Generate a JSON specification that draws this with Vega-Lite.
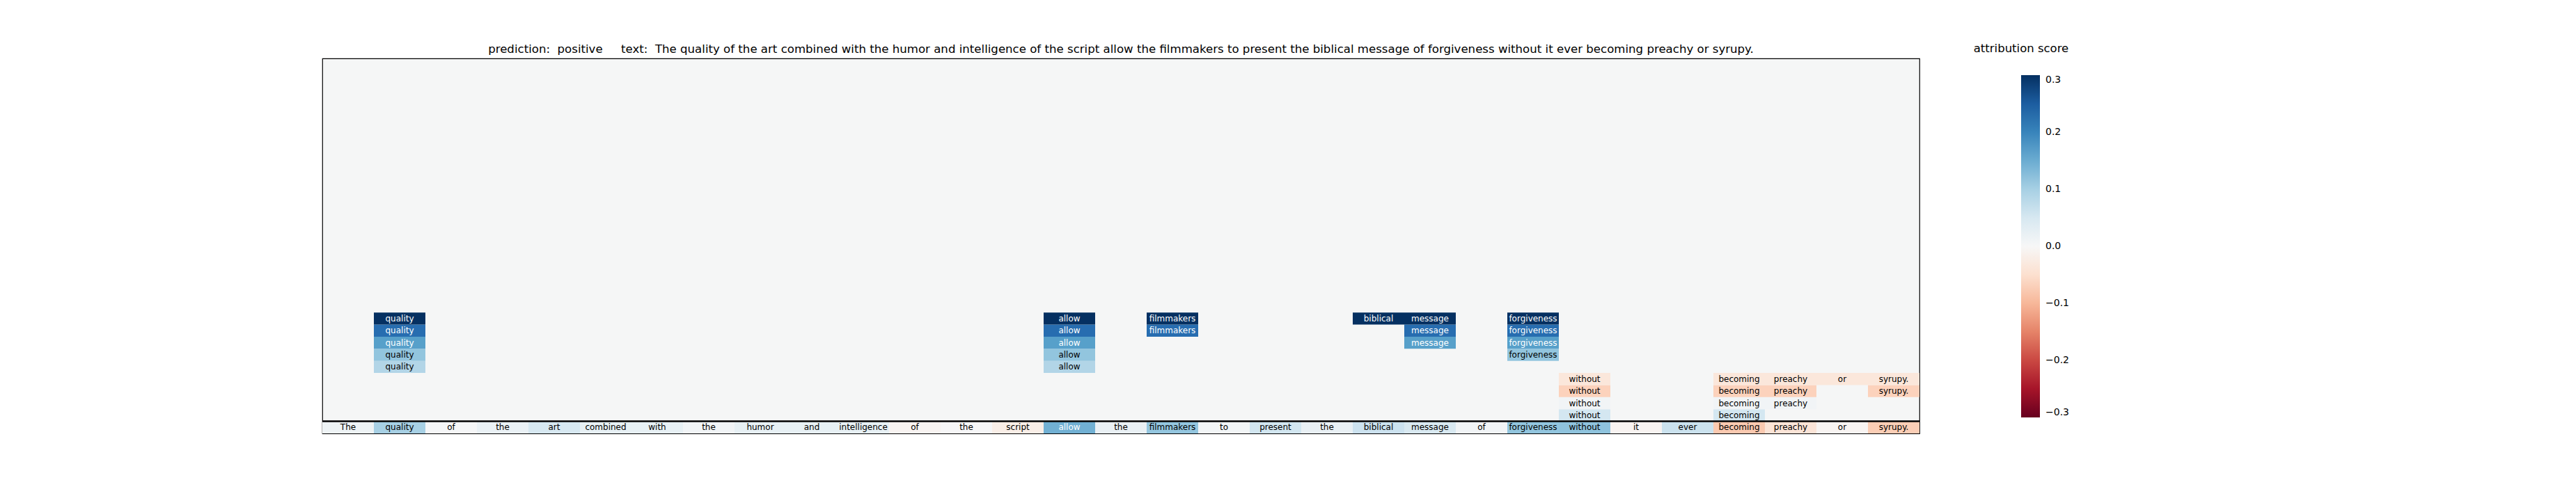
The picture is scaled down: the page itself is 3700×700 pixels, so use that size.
{
  "$schema": "https://vega.github.io/schema/vega-lite/v6.json",
  "autosize": {"type": "none"},
  "padding": {"left": 463, "top": 84, "right": 943, "bottom": 77},
  "width": 2294,
  "height": 539,
  "background": "white",
  "title": {
    "text": "prediction:\u00a0\u00a0positive\u00a0\u00a0\u00a0\u00a0\u00a0text:\u00a0\u00a0The quality of the art combined with the humor and intelligence of the script allow the filmmakers to present the biblical message of forgiveness without it ever becoming preachy or syrupy.",
    "font": "DejaVu Sans",
    "fontSize": 16.6,
    "fontWeight": "normal",
    "color": "black",
    "anchor": "middle",
    "offset": -18
  },
  "config": {
    "view": {"stroke": "black", "strokeWidth": 1.2, "fill": "#f5f6f6"},
    "font": "DejaVu Sans"
  },
  "data": {
    "values": [
      {"i": 0, "row": 0, "tok": "The", "v": 0.015},
      {"i": 1, "row": 0, "tok": "quality", "v": 0.1},
      {"i": 2, "row": 0, "tok": "of", "v": 0.003},
      {"i": 3, "row": 0, "tok": "the", "v": 0.02},
      {"i": 4, "row": 0, "tok": "art", "v": 0.05},
      {"i": 5, "row": 0, "tok": "combined", "v": 0.025},
      {"i": 6, "row": 0, "tok": "with", "v": 0.025},
      {"i": 7, "row": 0, "tok": "the", "v": 0.01},
      {"i": 8, "row": 0, "tok": "humor", "v": 0.025},
      {"i": 9, "row": 0, "tok": "and", "v": 0.025},
      {"i": 10, "row": 0, "tok": "intelligence", "v": 0.025},
      {"i": 11, "row": 0, "tok": "of", "v": -0.008},
      {"i": 12, "row": 0, "tok": "the", "v": 0.002},
      {"i": 13, "row": 0, "tok": "script", "v": -0.02},
      {"i": 14, "row": 0, "tok": "allow", "v": 0.145},
      {"i": 15, "row": 0, "tok": "the", "v": 0.022},
      {"i": 16, "row": 0, "tok": "filmmakers", "v": 0.118},
      {"i": 17, "row": 0, "tok": "to", "v": 0.008},
      {"i": 18, "row": 0, "tok": "present", "v": 0.058},
      {"i": 19, "row": 0, "tok": "the", "v": 0.022},
      {"i": 20, "row": 0, "tok": "biblical", "v": 0.065},
      {"i": 21, "row": 0, "tok": "message", "v": 0.048},
      {"i": 22, "row": 0, "tok": "of", "v": 0.01},
      {"i": 23, "row": 0, "tok": "forgiveness", "v": 0.12},
      {"i": 24, "row": 0, "tok": "without", "v": 0.122},
      {"i": 25, "row": 0, "tok": "it", "v": -0.008},
      {"i": 26, "row": 0, "tok": "ever", "v": 0.066},
      {"i": 27, "row": 0, "tok": "becoming", "v": -0.08},
      {"i": 28, "row": 0, "tok": "preachy", "v": -0.04},
      {"i": 29, "row": 0, "tok": "or", "v": -0.006},
      {"i": 30, "row": 0, "tok": "syrupy.", "v": -0.075},
      {"i": 1, "row": 5, "tok": "quality", "v": 0.09},
      {"i": 1, "row": 6, "tok": "quality", "v": 0.12},
      {"i": 1, "row": 7, "tok": "quality", "v": 0.165},
      {"i": 1, "row": 8, "tok": "quality", "v": 0.23},
      {"i": 1, "row": 9, "tok": "quality", "v": 0.32},
      {"i": 14, "row": 5, "tok": "allow", "v": 0.09},
      {"i": 14, "row": 6, "tok": "allow", "v": 0.12},
      {"i": 14, "row": 7, "tok": "allow", "v": 0.165},
      {"i": 14, "row": 8, "tok": "allow", "v": 0.23},
      {"i": 14, "row": 9, "tok": "allow", "v": 0.32},
      {"i": 16, "row": 8, "tok": "filmmakers", "v": 0.23},
      {"i": 16, "row": 9, "tok": "filmmakers", "v": 0.32},
      {"i": 20, "row": 9, "tok": "biblical", "v": 0.32},
      {"i": 21, "row": 7, "tok": "message", "v": 0.165},
      {"i": 21, "row": 8, "tok": "message", "v": 0.23},
      {"i": 21, "row": 9, "tok": "message", "v": 0.32},
      {"i": 23, "row": 6, "tok": "forgiveness", "v": 0.12},
      {"i": 23, "row": 7, "tok": "forgiveness", "v": 0.165},
      {"i": 23, "row": 8, "tok": "forgiveness", "v": 0.23},
      {"i": 23, "row": 9, "tok": "forgiveness", "v": 0.32},
      {"i": 24, "row": 1, "tok": "without", "v": 0.055},
      {"i": 24, "row": 2, "tok": "without", "v": 0.01},
      {"i": 24, "row": 3, "tok": "without", "v": -0.07},
      {"i": 24, "row": 4, "tok": "without", "v": -0.035},
      {"i": 27, "row": 1, "tok": "becoming", "v": 0.055},
      {"i": 27, "row": 2, "tok": "becoming", "v": 0.01},
      {"i": 27, "row": 3, "tok": "becoming", "v": -0.07},
      {"i": 27, "row": 4, "tok": "becoming", "v": -0.035},
      {"i": 28, "row": 2, "tok": "preachy", "v": 0.01},
      {"i": 28, "row": 3, "tok": "preachy", "v": -0.07},
      {"i": 28, "row": 4, "tok": "preachy", "v": -0.035},
      {"i": 29, "row": 4, "tok": "or", "v": -0.035},
      {"i": 30, "row": 3, "tok": "syrupy.", "v": -0.07},
      {"i": 30, "row": 4, "tok": "syrupy.", "v": -0.035}
    ]
  },
  "layer": [
    {
      "mark": {"type": "rect"},
      "encoding": {
        "x": {"field": "i", "type": "ordinal", "axis": null, "scale": {"paddingInner": 0, "paddingOuter": 0}},
        "y": {"field": "row", "type": "ordinal", "axis": null,
          "scale": {"domain": [30,29,28,27,26,25,24,23,22,21,20,19,18,17,16,15,14,13,12,11,10,9,8,7,6,5,4,3,2,1,0], "paddingInner": 0, "paddingOuter": 0}},
        "color": {
          "field": "v", "type": "quantitative",
          "scale": {
            "type": "linear",
            "domain": [-0.3, -0.24, -0.18, -0.12, -0.06, 0, 0.06, 0.12, 0.18, 0.24, 0.3],
            "range": ["#67001f", "#b2182b", "#d6604d", "#f4a582", "#fddbc7", "#f7f7f7", "#d1e5f0", "#92c5de", "#4393c3", "#2166ac", "#053061"],
            "interpolate": "rgb",
            "clamp": true
          },
          "legend": {
            "title": "attribution score",
            "orient": "none",
            "legendX": 2372,
            "legendY": -22,
            "direction": "vertical",
            "gradientLength": 492,
            "gradientThickness": 27,
            "gradientStrokeWidth": 0,
            "values": [-0.3, -0.2, -0.1, 0, 0.1, 0.2, 0.3],
            "format": ".1f",
            "labelFontSize": 14,
            "labelColor": "black",
            "labelOffset": 8,
            "labelFont": "DejaVu Sans",
            "titleFont": "DejaVu Sans",
            "titleFontSize": 16.5,
            "titleFontWeight": "normal",
            "titleColor": "black",
            "titleAnchor": "start",
            "titleAlign": "center",
            "titlePadding": 29.5
          }
        }
      }
    },
    {
      "mark": {"type": "text", "font": "DejaVu Sans", "fontSize": 12, "align": "center", "baseline": "middle"},
      "encoding": {
        "x": {"field": "i", "type": "ordinal"},
        "y": {"field": "row", "type": "ordinal"},
        "text": {"field": "tok"},
        "color": {"condition": {"test": "datum.v > 0.13", "value": "white"}, "value": "black"}
      }
    },
    {
      "data": {"values": [{"sep": 0}]},
      "mark": {"type": "rule", "color": "black", "strokeWidth": 2.5},
      "encoding": {
        "y": {"field": "sep", "type": "ordinal", "bandPosition": 0}
      }
    }
  ]
}
